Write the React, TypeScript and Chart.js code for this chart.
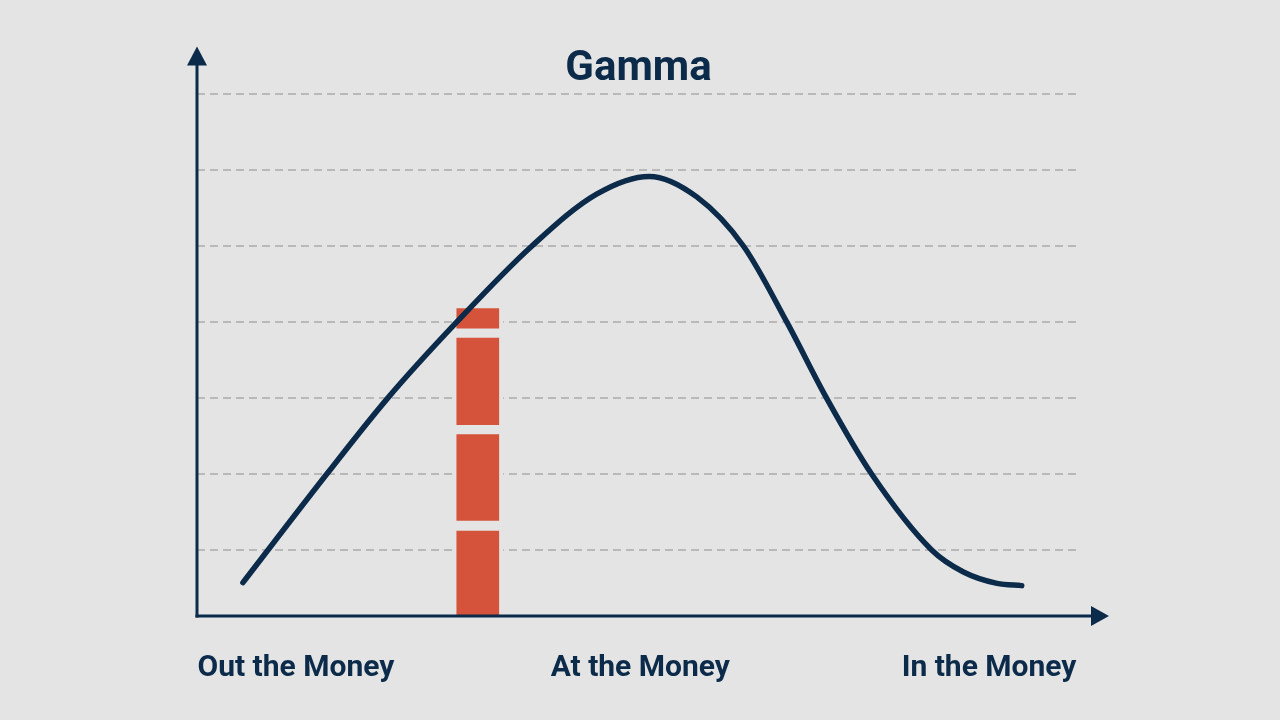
import { useEffect, useRef } from "react";
import { Chart, registerables, Plugin } from "chart.js";

Chart.register(...registerables);

const NAVY = "#0c2b4a";
const ORANGE = "#d4533a";
const BG = "#e4e4e4";
const GRID = "#b9b9b9";

// x runs 0..100 across the plot, y is in gridline steps (1..7)
const moneyLabels = ["Out the Money", "At the Money", "In the Money"];
const labelPositions = [11.2, 50.2, 89.7];
const gridLevels = [1, 2, 3, 4, 5, 6, 7];
const yAxisValue = 0.13;

const gammaX = [5.2, 14.7, 21.6, 29.4, 37.9, 45.3, 51.2, 56.6, 61.9, 66.8, 71.3, 76.4, 83.2, 86.8, 90.6, 93.4];
const gammaY = [0.57, 2.0, 3.0, 4.0, 5.0, 5.69, 5.92, 5.65, 5.0, 4.0, 3.0, 2.0, 1.0, 0.71, 0.56, 0.53];

const barX = 31.8;
const barSegments = [
  [0.13, 1.25],
  [1.39, 2.52],
  [2.65, 3.79],
  [3.92, 4.18],
];

const axisArrows: Plugin = {
  id: "axisArrows",
  afterDatasetsDraw(chart) {
    const { ctx, chartArea } = chart;
    const { left, right, bottom, top } = chartArea;
    ctx.save();
    ctx.strokeStyle = NAVY;
    ctx.fillStyle = NAVY;
    ctx.lineWidth = 3;

    // y axis
    const yTip = top - 48;
    ctx.beginPath();
    ctx.moveTo(left, bottom + 1.5);
    ctx.lineTo(left, yTip + 10);
    ctx.stroke();
    ctx.beginPath();
    ctx.moveTo(left, yTip);
    ctx.lineTo(left - 10, yTip + 19);
    ctx.lineTo(left + 10, yTip + 19);
    ctx.closePath();
    ctx.fill();

    // x axis
    const xTip = right + 29;
    ctx.beginPath();
    ctx.moveTo(left - 1.5, bottom);
    ctx.lineTo(xTip - 10, bottom);
    ctx.stroke();
    ctx.beginPath();
    ctx.moveTo(xTip, bottom);
    ctx.lineTo(xTip - 18, bottom - 10);
    ctx.lineTo(xTip - 18, bottom + 10);
    ctx.closePath();
    ctx.fill();
    ctx.restore();
  },
};

function GammaChart(): JSX.Element {
  const chartRef = useRef<HTMLCanvasElement | null>(null);
  const chartInstance = useRef<Chart | null>(null);

  useEffect(() => {
    if (!chartRef.current) return;
    const ctx = chartRef.current.getContext("2d");
    if (!ctx) return;

    const segmentSets = barSegments.map((seg) => ({
      type: "bar" as const,
      data: [{ x: barX, y: seg }],
      backgroundColor: ORANGE,
      barThickness: 42,
      grouped: false,
      order: 1,
    }));

    if (chartInstance.current) {
      chartInstance.current.destroy();
    }

    chartInstance.current = new Chart(ctx, {
      type: "line",
      data: {
        datasets: [
          {
            type: "line",
            data: gammaX.map((x, i) => ({ x, y: gammaY[i] })),
            borderColor: NAVY,
            borderWidth: 5.5,
            borderCapStyle: "round",
            pointRadius: 0,
            fill: false,
            cubicInterpolationMode: "monotone",
            order: 0,
          },
          ...segmentSets,
          {
            type: "bar",
            data: [{ x: barX, y: [yAxisValue, barSegments[barSegments.length - 1][1]] }],
            backgroundColor: BG,
            barThickness: 50,
            grouped: false,
            order: 2,
          },
        ] as any,
      },
      options: {
        animation: false,
        responsive: true,
        maintainAspectRatio: false,
        layout: { padding: { left: 197, right: 200, top: 0, bottom: 0 } },
        plugins: {
          legend: { display: false },
          tooltip: { enabled: false },
          title: {
            display: true,
            text: "Gamma",
            color: NAVY,
            font: { family: "Roboto", size: 42, weight: "bold", lineHeight: 1.2 },
            padding: { top: 44, bottom: 0 },
          },
        },
        scales: {
          x: {
            type: "linear",
            min: 0,
            max: 100,
            offset: false,
            afterBuildTicks: (scale) => {
              scale.ticks = labelPositions.map((v) => ({ value: v }));
            },
            ticks: {
              autoSkip: false,
              maxRotation: 0,
              padding: 34,
              color: NAVY,
              font: { family: "Roboto", size: 30, weight: "bold", lineHeight: 1.2 },
              callback: (_v, i) => moneyLabels[i],
            },
            grid: { display: false, drawTicks: false },
            border: { display: false },
          },
          y: {
            type: "linear",
            min: yAxisValue,
            max: 7,
            afterBuildTicks: (scale) => {
              scale.ticks = gridLevels.map((v) => ({ value: v }));
            },
            ticks: { display: false },
            grid: { color: GRID, lineWidth: 2, drawTicks: false },
            border: { display: false, dash: [8, 5] },
          },
        },
      },
      plugins: [axisArrows],
    });

    return () => {
      if (chartInstance.current) {
        chartInstance.current.destroy();
        chartInstance.current = null;
      }
    };
  }, []);

  return (
    <div style={{ position: "fixed", left: 0, top: 0, width: 1280, height: 720, background: BG }}>
      <canvas ref={chartRef}></canvas>
    </div>
  );
}

export default function App(): JSX.Element {
  return <GammaChart />;
}
